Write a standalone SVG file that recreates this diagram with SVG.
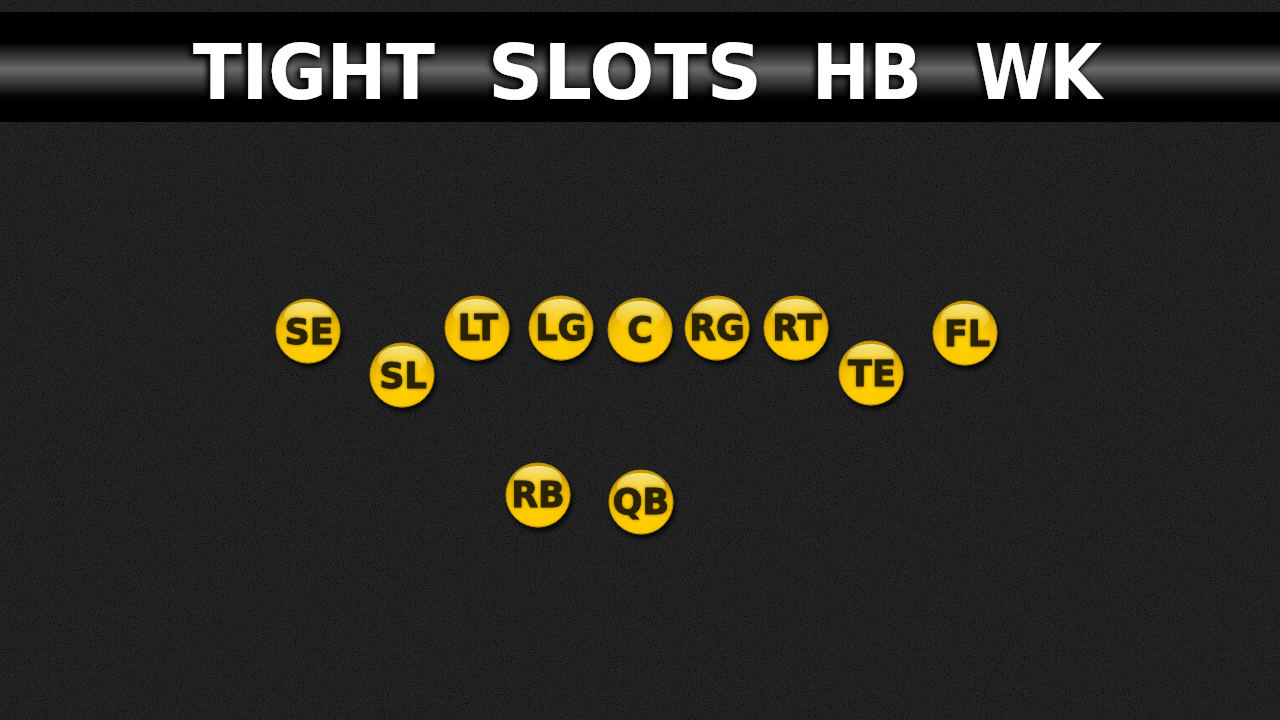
<svg xmlns="http://www.w3.org/2000/svg" width="1280" height="720" viewBox="0 0 1280 720">
<defs>
<style>
.ball{fill:url(#ballGrad);stroke:#b89000;stroke-width:1;filter:url(#drop)}
.gloss{fill:url(#glossGrad)}
.lbl{font-family:"DejaVu Sans","Liberation Sans",sans-serif;font-weight:bold;font-size:35px;fill:#2a2104;stroke:#2a2104;stroke-width:0.8;text-anchor:middle;filter:url(#soft)}
.title{font-family:"DejaVu Sans","Liberation Sans",sans-serif;font-weight:bold;font-size:76px;fill:#ffffff;filter:url(#tshadow)}
</style>
<filter id="noise" x="0" y="0" width="100%" height="100%">
<feTurbulence type="fractalNoise" baseFrequency="0.85" numOctaves="2" seed="3" result="n"/>
<feColorMatrix type="matrix" values="2.2 0 0 0 -0.6  2.2 0 0 0 -0.6  2.2 0 0 0 -0.6  0 0 0 0 0.09"/>
</filter>
<filter id="drop" x="-30%" y="-30%" width="160%" height="170%">
<feDropShadow dx="2" dy="4" stdDeviation="2.5" flood-color="#000" flood-opacity="0.85"/>
</filter>
<filter id="soft" x="-20%" y="-30%" width="140%" height="160%">
<feGaussianBlur in="SourceAlpha" stdDeviation="1.6" result="b"/>
<feFlood flood-color="#3a2e00" flood-opacity="0.7"/>
<feComposite in2="b" operator="in" result="s"/>
<feMerge><feMergeNode in="s"/><feMergeNode in="SourceGraphic"/></feMerge>
</filter>
<filter id="tshadow" x="-5%" y="-30%" width="110%" height="160%">
<feGaussianBlur in="SourceAlpha" stdDeviation="3" result="b"/>
<feOffset in="b" dx="-2" dy="2" result="o"/>
<feFlood flood-color="#000"/>
<feComposite in2="o" operator="in" result="s"/>
<feMerge><feMergeNode in="s"/><feMergeNode in="s"/><feMergeNode in="SourceGraphic"/></feMerge>
</filter>
<radialGradient id="ballGrad" cx="50%" cy="68%" r="60%">
<stop offset="0" stop-color="#ffd200"/>
<stop offset="0.6" stop-color="#fcc800"/>
<stop offset="0.9" stop-color="#e8b400"/>
<stop offset="1" stop-color="#c99a00"/>
</radialGradient>
<linearGradient id="glossGrad" x1="0" y1="0" x2="0" y2="1">
<stop offset="0" stop-color="#fff6a8" stop-opacity="0.85"/>
<stop offset="1" stop-color="#ffe14a" stop-opacity="0.1"/>
</linearGradient>
<linearGradient id="band" x1="0" y1="0" x2="0" y2="1">
<stop offset="0" stop-color="#000"/>
<stop offset="0.28" stop-color="#000"/>
<stop offset="0.52" stop-color="#6a6a6a"/>
<stop offset="0.78" stop-color="#000"/>
<stop offset="1" stop-color="#000"/>
</linearGradient>
<symbol id="ballShape" overflow="visible">
<circle class="ball" cx="0" cy="0" r="32"/>
<ellipse class="gloss" cx="0" cy="-15" rx="24" ry="14"/>
</symbol>
</defs>
<rect width="1280" height="720" fill="#121212"/>
<rect width="1280" height="720" fill="#000" filter="url(#noise)"/>
<g id="banner">
<rect x="0" y="12" width="1280" height="110" fill="url(#band)"/>
<text class="title" y="99"><tspan x="193" textLength="242" lengthAdjust="spacingAndGlyphs">TIGHT</tspan><tspan x="488" textLength="274" lengthAdjust="spacingAndGlyphs">SLOTS</tspan><tspan x="812" textLength="110" lengthAdjust="spacingAndGlyphs">HB</tspan><tspan x="975" textLength="127" lengthAdjust="spacingAndGlyphs">WK</tspan></text>
</g>
<g id="connectors"></g>
<g id="SE"><use href="#ballShape" x="308" y="331"/><text class="lbl" x="309" y="344">SE</text></g>
<g id="SL"><use href="#ballShape" x="402" y="375"/><text class="lbl" x="403" y="388">SL</text></g>
<g id="LT"><use href="#ballShape" x="477" y="328"/><text class="lbl" x="478" y="340">LT</text></g>
<g id="LG"><use href="#ballShape" x="561" y="328"/><text class="lbl" x="561" y="340">LG</text></g>
<g id="C"><use href="#ballShape" x="640" y="330"/><text class="lbl" x="640" y="342">C</text></g>
<g id="RG"><use href="#ballShape" x="717" y="328"/><text class="lbl" x="717" y="340">RG</text></g>
<g id="RT"><use href="#ballShape" x="796" y="328"/><text class="lbl" x="797" y="340">RT</text></g>
<g id="TE"><use href="#ballShape" x="871" y="373"/><text class="lbl" x="872" y="386">TE</text></g>
<g id="FL"><use href="#ballShape" x="965" y="333"/><text class="lbl" x="967" y="346">FL</text></g>
<g id="RB"><use href="#ballShape" x="538" y="495"/><text class="lbl" x="538" y="507">RB</text></g>
<g id="QB"><use href="#ballShape" x="641" y="502"/><text class="lbl" x="641" y="514">QB</text></g>
</svg>
